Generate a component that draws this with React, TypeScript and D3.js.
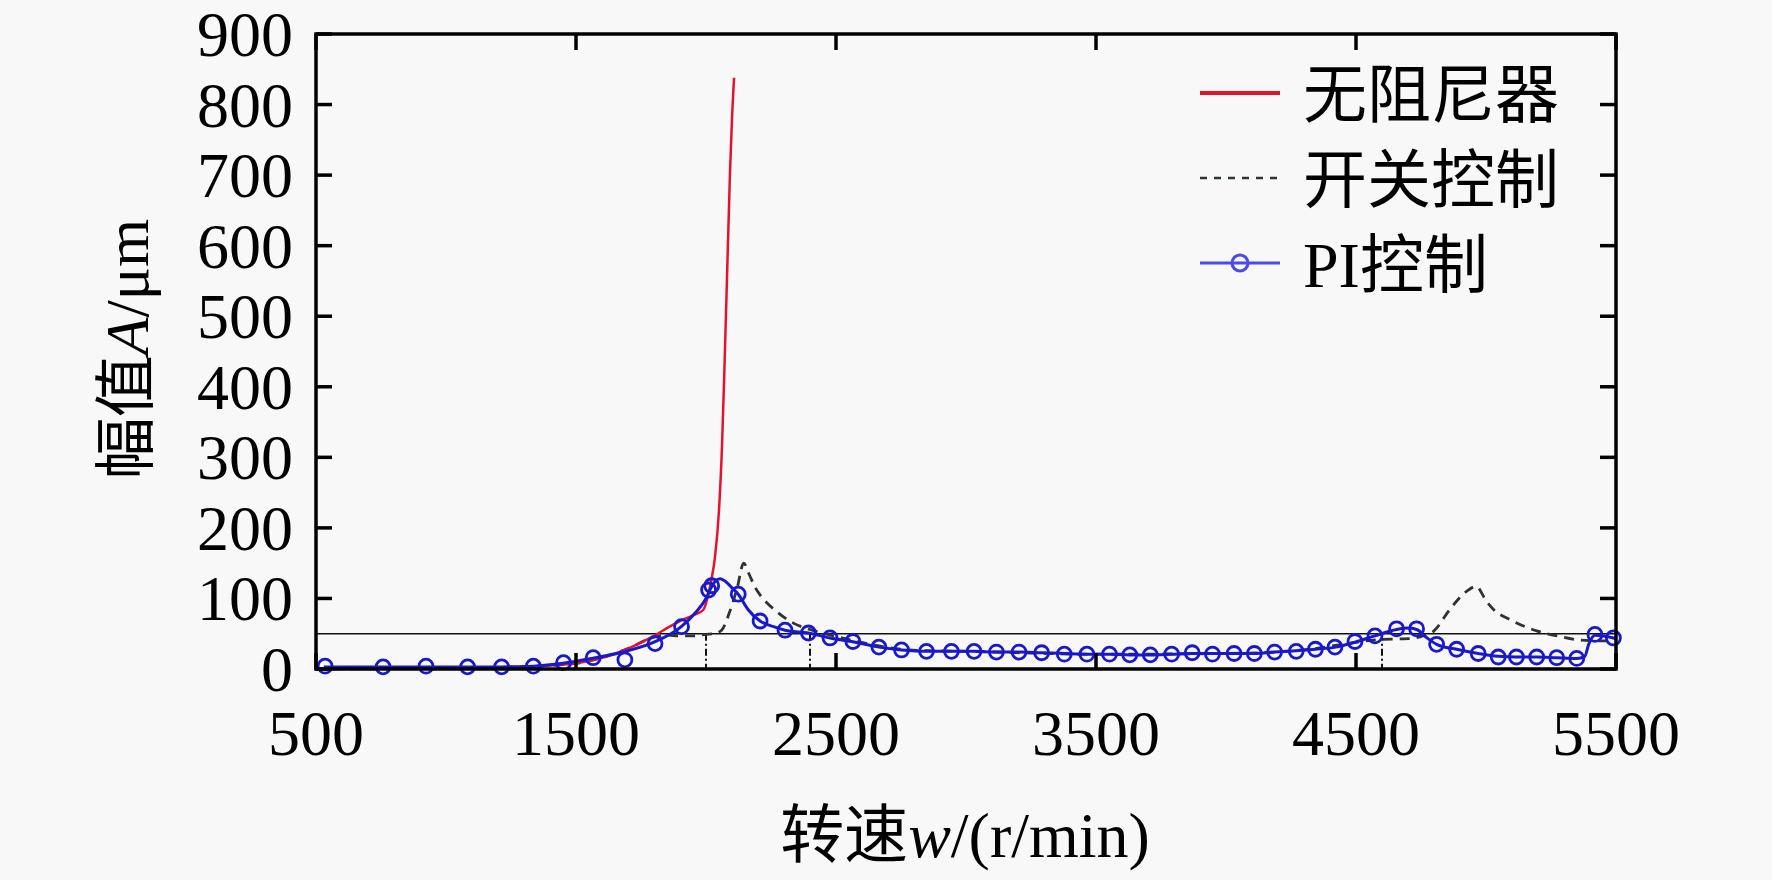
import React from 'react';
import * as d3 from 'd3';

type Pt = [number, number];

// speed (r/min) vs amplitude (um)
const noDamper: Pt[] = [
  [500, 0], [800, 1], [1000, 1], [1200, 2], [1400, 5], [1500, 8], [1600, 16], [1700, 29],
  [1800, 47], [1860, 60], [1900, 68], [1950, 76], [1990, 84], [2005, 100], [2020, 125],
  [2035, 160], [2050, 225], [2062, 320], [2072, 440], [2082, 570], [2092, 700], [2100, 780], [2108, 838],
];

const switchCtrl: Pt[] = [
  [500, 0], [1000, 1], [1400, 5], [1500, 8], [1600, 16], [1700, 29], [1800, 45], [1850, 48],
  [1900, 47], [1950, 47], [2000, 49], [2030, 50], [2060, 55], [2090, 80], [2120, 115], [2145, 150],
  [2165, 135], [2190, 115], [2210, 104], [2270, 82], [2336, 65], [2400, 56], [2480, 48], [2560, 41],
  [2660, 33], [2750, 28], [2850, 26], [3000, 25], [3500, 21], [4000, 22], [4300, 27], [4450, 35],
  [4600, 42], [4700, 43], [4750, 46], [4800, 54], [4860, 84], [4925, 110], [4962, 117], [5000, 97],
  [5030, 84], [5092, 70], [5195, 54], [5285, 46], [5362, 41], [5420, 40], [5500, 40],
];

const piLine: Pt[] = [
  [530, 3], [750, 3], [925, 3], [1080, 3], [1210, 3], [1335, 4], [1450, 8], [1560, 15], [1680, 24],
  [1800, 38], [1905, 60], [1960, 80], [2000, 100], [2022, 117], [2040, 126], [2055, 128], [2075, 124],
  [2100, 115], [2124, 106], [2160, 85], [2208, 68], [2260, 60], [2304, 55], [2394, 51], [2477, 44],
  [2560, 39], [2665, 31], [2752, 27], [2848, 25], [2944, 25], [3031, 25], [3117, 24], [3204, 24],
  [3291, 23], [3378, 22], [3465, 21], [3552, 21], [3630, 20], [3709, 20], [3791, 21], [3870, 22],
  [3948, 22], [4031, 22], [4109, 22], [4187, 24], [4270, 26], [4344, 28], [4422, 31], [4496, 38],
  [4573, 47], [4656, 56], [4700, 58], [4733, 56], [4770, 45], [4810, 35], [4887, 28], [4970, 22],
  [5047, 18], [5117, 17], [5195, 17], [5272, 16], [5349, 15], [5380, 18], [5395, 35], [5419, 48],
  [5490, 44], [5500, 43],
];

const piMarkers: Pt[] = [
  [535, 4], [758, 3], [923, 4], [1083, 3], [1214, 3], [1336, 4], [1452, 9], [1566, 16], [1688, 13],
  [1804, 36], [1906, 60], [2010, 112], [2022, 118], [2124, 106], [2208, 68], [2304, 55], [2394, 51],
  [2477, 44], [2565, 39], [2665, 31], [2752, 27], [2848, 25], [2944, 25], [3031, 25], [3117, 24],
  [3204, 24], [3291, 23], [3378, 21], [3465, 21], [3552, 21], [3630, 20], [3709, 20], [3791, 21],
  [3870, 23], [3948, 21], [4031, 22], [4109, 22], [4187, 24], [4270, 25], [4344, 28], [4419, 31],
  [4496, 39], [4573, 47], [4656, 57], [4733, 57], [4810, 35], [4887, 28], [4970, 22], [5047, 17],
  [5117, 17], [5195, 17], [5272, 16], [5349, 15], [5419, 49], [5490, 44],
];

const threshold = 50;
const switchSpeeds = [2000, 2400, 4600];

const xTicks = [500, 1500, 2500, 3500, 4500, 5500];
const yTicks = [0, 100, 200, 300, 400, 500, 600, 700, 800, 900];
const legendLabels = ['无阻尼器', '开关控制', 'PI控制'];

const W = 1772;
const H = 880;
const left = 316;
const right = 1616;
const top = 34;
const bottom = 669;
const tickLen = 16;
const font = "'Liberation Serif', 'Times New Roman', 'Noto Sans CJK SC', serif";

const RED = '#e5122e';
const DASH = '#2e3530';
const BLUE = '#1818cc';

const App: React.FC = () => {
  const x = d3.scaleLinear().domain([500, 5500]).range([left, right]);
  const y = d3.scaleLinear().domain([0, 900]).range([bottom, top]);

  const line = d3.line<Pt>()
    .x(d => x(d[0]))
    .y(d => y(d[1]))
    .curve(d3.curveMonotoneX);

  const legendX = 1200;
  const legendRows = [93, 178, 263];

  return (
    <div style={{ position: 'fixed', left: 0, top: 0, width: W, height: H, background: '#f8f8f8' }}>
      <svg width={W} height={H} style={{ display: 'block' }}>
        <rect x={0} y={0} width={W} height={H} fill="#f8f8f8" />

        {/* threshold line */}
        <line x1={left} x2={right} y1={y(threshold)} y2={y(threshold)} stroke="#111" strokeWidth={1.5} />

        {/* switching markers */}
        {switchSpeeds.map(s => (
          <line key={s} x1={x(s)} x2={x(s)} y1={y(threshold)} y2={bottom}
            stroke="#111" strokeWidth={2} strokeDasharray="7,3,2,3" />
        ))}

        {/* series */}
        <path d={line(switchCtrl) || ''} fill="none" stroke={DASH} strokeWidth={2.8} strokeDasharray="10,7" />
        <path d={line(noDamper) || ''} fill="none" stroke={RED} strokeWidth={2.5} />
        <path d={line(piLine) || ''} fill="none" stroke={BLUE} strokeWidth={3} />
        {piMarkers.map((d, i) => (
          <circle key={i} cx={x(d[0])} cy={y(d[1])} r={7} fill="none" stroke={BLUE} strokeWidth={2.8} />
        ))}

        {/* frame */}
        <rect x={left} y={top} width={right - left} height={bottom - top} fill="none" stroke="#000" strokeWidth={3.5} />

        {/* ticks, pointing inward on all four sides */}
        {xTicks.map(t => (
          <g key={'x' + t}>
            <line x1={x(t)} x2={x(t)} y1={bottom} y2={bottom - tickLen} stroke="#000" strokeWidth={3.5} />
            <line x1={x(t)} x2={x(t)} y1={top} y2={top + tickLen} stroke="#000" strokeWidth={3.5} />
            <text x={x(t)} y={755} textAnchor="middle" fontFamily={font} fontSize={64} fill="#000">{t}</text>
          </g>
        ))}
        {yTicks.map(t => (
          <g key={'y' + t}>
            <line x1={left} x2={left + tickLen} y1={y(t)} y2={y(t)} stroke="#000" strokeWidth={3.5} />
            <line x1={right} x2={right - tickLen} y1={y(t)} y2={y(t)} stroke="#000" strokeWidth={3.5} />
            <text x={293} y={y(t) + 22} textAnchor="end" fontFamily={font} fontSize={64} fill="#000">{t}</text>
          </g>
        ))}

        {/* axis titles */}
        <text x={965} y={857} textAnchor="middle" fontFamily={font} fontSize={64} fill="#000">
          转速<tspan fontStyle="italic">w</tspan>/(r/min)
        </text>
        <text transform={`translate(148,349) rotate(-90)`} textAnchor="middle" fontFamily={font} fontSize={62} fill="#000">
          幅值<tspan fontStyle="italic">A</tspan>/μm
        </text>

        {/* legend */}
        <line x1={legendX} x2={legendX + 80} y1={legendRows[0]} y2={legendRows[0]} stroke={RED} strokeWidth={4} />
        <line x1={legendX} x2={legendX + 80} y1={legendRows[1]} y2={legendRows[1]} stroke={DASH} strokeWidth={2.5} strokeDasharray="7,7" />
        <line x1={legendX} x2={legendX + 80} y1={legendRows[2]} y2={legendRows[2]} stroke="#4b4be6" strokeWidth={3} />
        <circle cx={legendX + 40} cy={legendRows[2]} r={8} fill="none" stroke="#4b4be6" strokeWidth={3} />
        {legendLabels.map((l, i) => (
          <text key={l} x={1303} y={legendRows[i] + 24} fontFamily={font} fontSize={64} fill="#000">{l}</text>
        ))}
      </svg>
    </div>
  );
};

export default App;
